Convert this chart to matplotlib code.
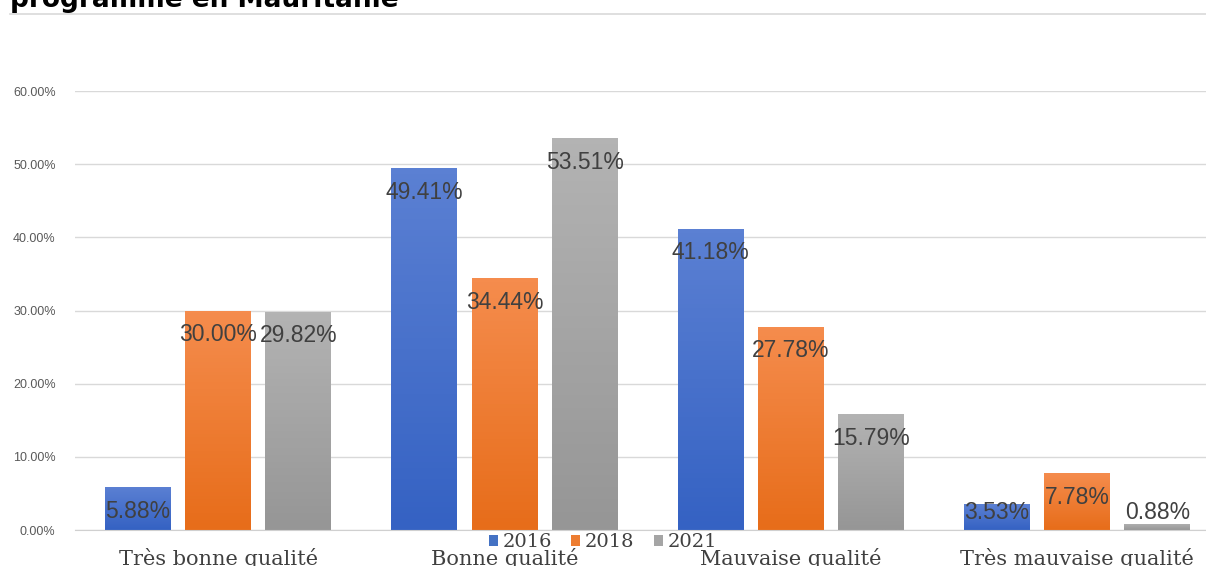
import matplotlib.pyplot as plt
import numpy as np
from matplotlib.lines import Line2D
from matplotlib.patches import Patch
from matplotlib.colors import LinearSegmentedColormap

categories = ["Très bonne qualité", "Bonne qualité", "Mauvaise qualité", "Très mauvaise qualité"]
years = ["2016", "2018", "2021"]
vals_2016 = [5.88, 49.41, 41.18, 3.53]
vals_2018 = [30.00, 34.44, 27.78, 7.78]
vals_2021 = [29.82, 53.51, 15.79, 0.88]
series = [vals_2016, vals_2018, vals_2021]

# (top colour, bottom colour) for the gradient fill of each year
grad = [("#5b80d3", "#3562c3"), ("#f58c4d", "#e76d1a"), ("#b3b3b3", "#969696")]
solid = ["#4472c4", "#ed7d31", "#a5a5a5"]

fig = plt.figure(figsize=(12.06, 5.66), dpi=100)
ax = fig.add_axes([0.0622, 0.0636, 0.9378, 0.7756])

x = np.arange(len(categories))
offset = 0.28
width = 0.23

for i, vals in enumerate(series):
    bars = ax.bar(x + (i - 1) * offset, vals, width, color=solid[i], zorder=2)
    cmap = LinearSegmentedColormap.from_list("g%d" % i, [grad[i][1], grad[i][0]])
    for b, v in zip(bars, vals):
        b.set_alpha(0)
        im = ax.imshow(np.linspace(0, 1, 64).reshape(-1, 1), cmap=cmap, origin="lower",
                       extent=[b.get_x(), b.get_x() + b.get_width(), 0, v],
                       aspect="auto", zorder=2)
        im.set_clip_path(b)
        # label sits inside the top of the bar, but never lower than just above the axis
        ly = max(v - 3.3, 2.4)
        ax.text(b.get_x() + b.get_width() / 2, ly, "%.2f%%" % v, ha="center", va="center",
                fontsize=16.5, family="Liberation Sans", color="#404040", zorder=3)

ax.set_xlim(-0.5, 3.45)
ax.set_ylim(0, 60)
ax.set_yticks(np.arange(0, 61, 10))
ax.set_yticklabels(["%.2f%%" % t for t in np.arange(0, 61, 10)], fontsize=9,
                   family="Liberation Sans", color="#595959")
ax.set_xticks(x)
ax.set_xticklabels(categories, fontsize=15, family="DejaVu Serif", color="#404040")
ax.tick_params(axis="y", length=0, pad=14)
ax.tick_params(axis="x", length=0, pad=13)
ax.grid(axis="y", color="#d9d9d9", linewidth=1, zorder=0)
for s in ["top", "right", "left"]:
    ax.spines[s].set_visible(False)
ax.spines["bottom"].set_color("#d0d0d0")

handles = [Patch(facecolor=c) for c in solid]
fig.legend(handles, years, loc="center", bbox_to_anchor=(0.5, 0.042), ncol=3, frameon=False,
           prop={"family": "DejaVu Serif", "size": 14}, handlelength=0.45, handleheight=0.45,
           handletextpad=0.25, columnspacing=1.0, labelcolor="#404040",
           borderpad=0, borderaxespad=0)

fig.text(0.008, 0.988, "programme en Mauritanie", fontsize=19, fontweight="bold",
         family="DejaVu Sans", va="baseline", ha="left", color="black")
fig.add_artist(Line2D([0.008, 1.0], [0.976, 0.976], color="#d9d9d9", linewidth=1.2))

fig.savefig("out.png", dpi=100)
